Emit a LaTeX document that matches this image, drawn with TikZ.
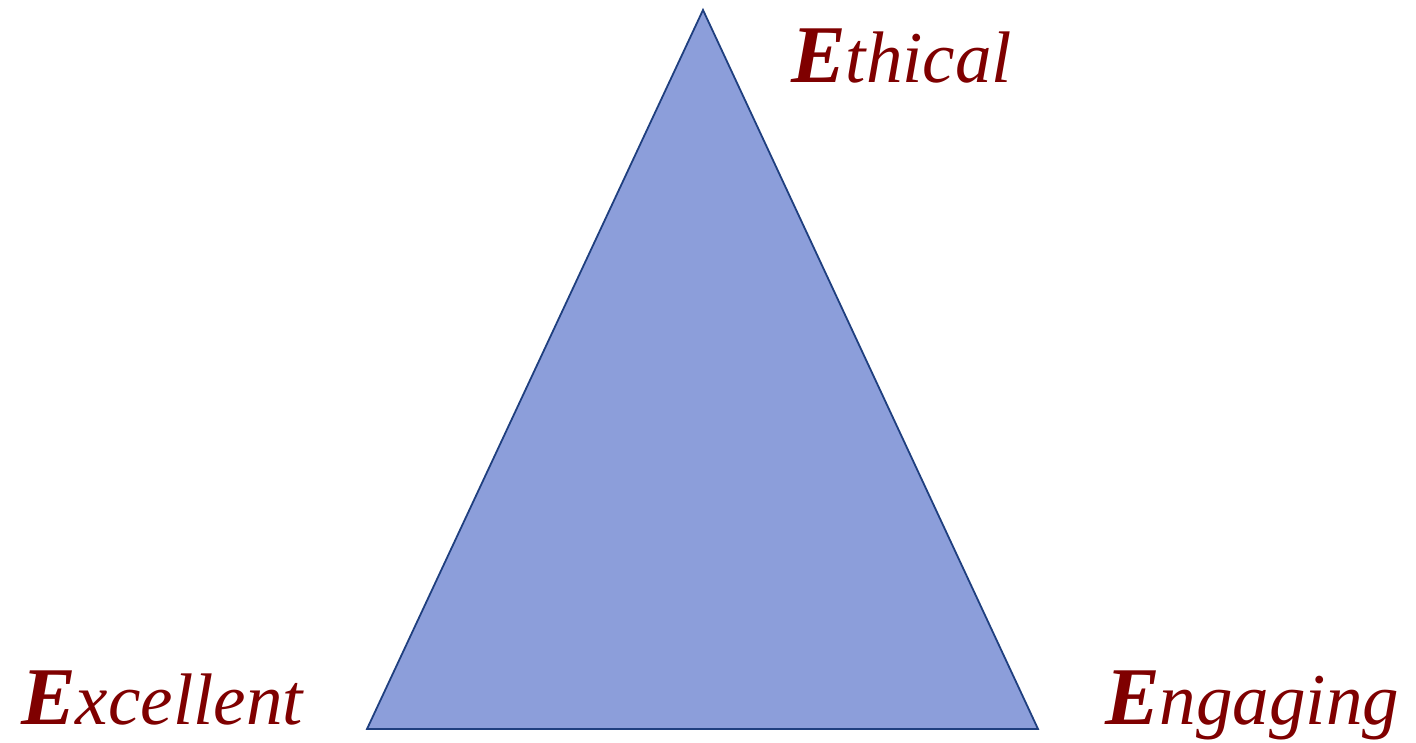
\documentclass[tikz,border=0pt]{standalone}
\usepackage{fontspec}
\setmainfont{Liberation Serif}
\definecolor{lab}{HTML}{7F0000}
\definecolor{tri}{HTML}{8C9EDA}
\definecolor{edge}{HTML}{1F3F7F}
\tikzset{
  label/.style={inner sep=0pt, anchor=base west, text=lab, font=\itshape\fontsize{73}{73}\selectfont},
}
\newcommand{\bigE}{{\bfseries\fontsize{82}{82}\selectfont E}}
\begin{document}
\begin{tikzpicture}[x=1pt,y=1pt]
\useasboundingbox (0,0) rectangle (1416,742);
\coordinate (top) at (703,732);
\coordinate (bl) at (367,13);
\coordinate (br) at (1038,13);
\draw[fill=tri, draw=edge, line width=1.8pt, line join=miter] (top) -- (bl) -- (br) -- cycle;
\node[label] (eth) at (791,659) {\bigE thical};
\node[label] (exc) at (21,18) {\bigE xcellent};
\node[label] (eng) at (1105,18) {\bigE ngaging};
\end{tikzpicture}
\end{document}
